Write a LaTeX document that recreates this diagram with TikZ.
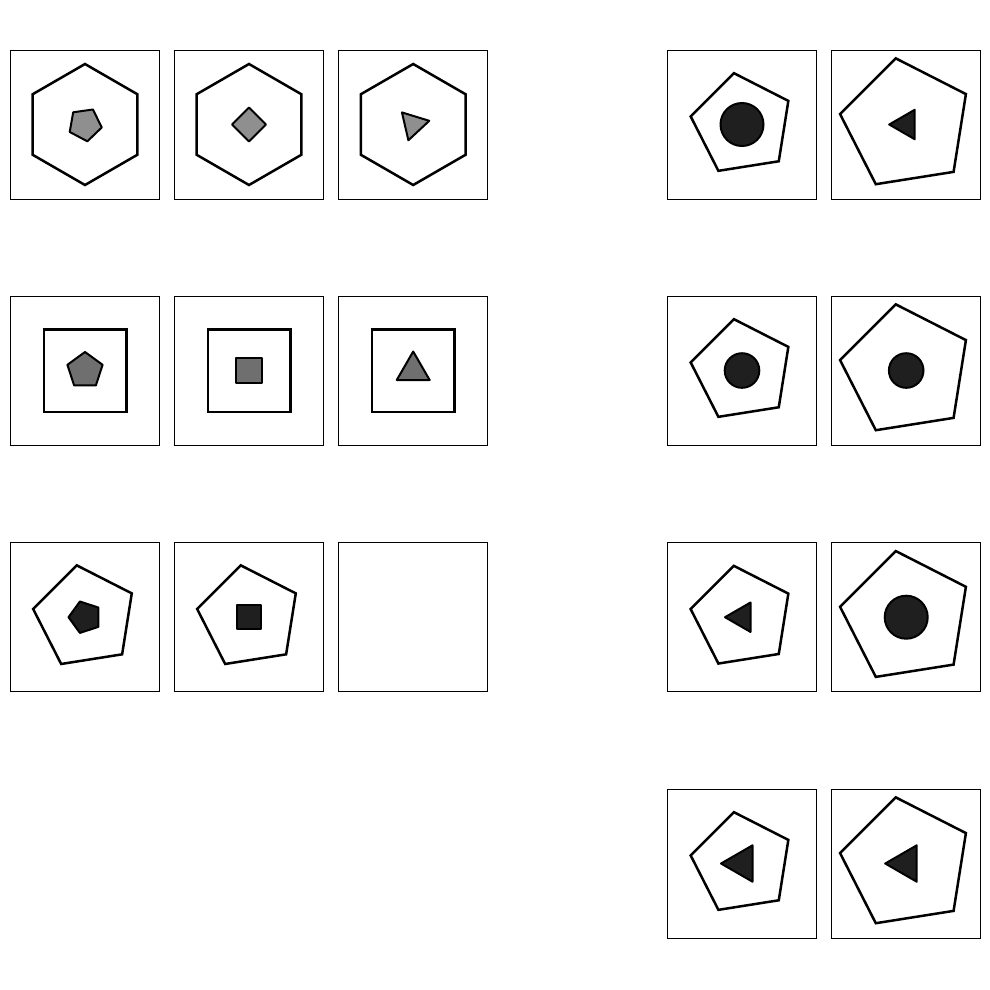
\documentclass[tikz,border=0pt]{standalone}
\usetikzlibrary{shapes.geometric}
\definecolor{lightfill}{HTML}{8F8F8F}
\definecolor{midfill}{HTML}{6F6F6F}
\definecolor{darkfill}{HTML}{1F1F1F}

\begin{document}
\begin{tikzpicture}[
  x=1pt, y=-1pt,
  panel/.style={draw, line width=1pt, minimum size=149pt, inner sep=0pt, outer sep=0pt},
  outline/.style={draw, line width=2.5pt, inner sep=0pt, outer sep=0pt},
  hexa/.style={outline, regular polygon, regular polygon sides=6, rotate=30, minimum size=121pt},
  frame/.style={outline, rectangle, minimum size=82.5pt},
  pent/.style={outline, regular polygon, regular polygon sides=5, rotate=9, minimum size=#1},
  piece/.style={draw, line width=2pt, line join=round, inner sep=0pt, outer sep=0pt, fill=#1},
  ppent/.style={piece=#1, regular polygon, regular polygon sides=5},
  ptri/.style={piece=#1, regular polygon, regular polygon sides=3},
  psq/.style={piece=#1, rectangle},
  pdot/.style={piece=#1, circle}
]
\useasboundingbox (0,0) rectangle (990,989);

% answer panels, left block
\foreach \r/\y in {1/124.5,2/370.5,3/617.2}
  \foreach \c/\x in {1/85,2/249,3/413.2}
    \node[panel] (l\r\c) at (\x,\y) {};
% choice panels, right block
\foreach \r/\y in {1/124.5,2/370.5,3/617.2,4/863.5}
  \foreach \c/\x in {1/742,2/906.2}
    \node[panel] (r\r\c) at (\x,\y) {};

% outer shapes
\foreach \c in {1,2,3} \node[hexa] (hex\c) at (l1\c) {};
\foreach \c in {1,2,3} \node[frame] (box\c) at (l2\c) {};
\foreach \c in {1,2} \node[pent=105pt] (pen\c) at (l3\c) {};
\foreach \r in {1,2,3,4} {
  \node[pent=104pt] (sma\r) at (r\r1) {};
  \node[pent=134pt] (big\r) at (r\r2) {};
}

% inner shapes, top row
\node[ppent=lightfill, rotate=-28, minimum size=34pt] (a11) at (l11) {};
\node[psq=lightfill, rotate=45, minimum size=24pt] (a12) at (l12) {};
\node[ptri=lightfill, rotate=43, minimum size=33pt] (a13) at (l13) {};
% middle row
\node[ppent=midfill, minimum size=37pt] (a21) at (l21) {};
\node[psq=midfill, minimum size=25.5pt] (a22) at (l22) {};
\node[ptri=midfill, minimum size=38pt] (a23) at (l23) {};
% bottom row
\node[ppent=darkfill, rotate=18, minimum size=33pt] (a31) at (l31) {};
\node[psq=darkfill, minimum size=24pt] (a32) at (l32) {};

% choices
\node[pdot=darkfill, minimum size=43pt] (b11) at (r11) {};
\node[ptri=darkfill, rotate=90, minimum size=34pt] (b12) at (r12) {};
\node[pdot=darkfill, minimum size=34.6pt] (b21) at (r21) {};
\node[pdot=darkfill, minimum size=34.6pt] (b22) at (r22) {};
\node[ptri=darkfill, rotate=90, minimum size=34pt] (b31) at (r31) {};
\node[pdot=darkfill, minimum size=43pt] (b32) at (r32) {};
\node[ptri=darkfill, rotate=90, minimum size=42pt] (b41) at (r41) {};
\node[ptri=darkfill, rotate=90, minimum size=42pt] (b42) at (r42) {};
\end{tikzpicture}
\end{document}
